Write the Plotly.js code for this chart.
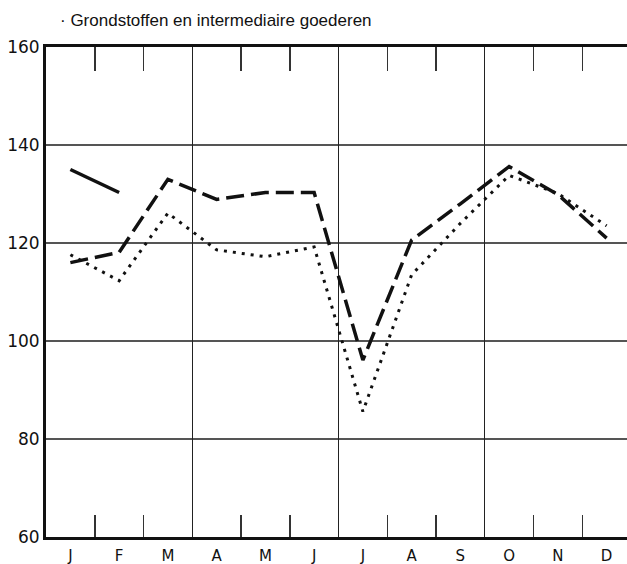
<!DOCTYPE html>
<html>
<head>
<meta charset="utf-8">
<script src="https://cdn.plot.ly/plotly-3.0.1.min.js"></script>
<style>
html,body{margin:0;padding:0;overflow:hidden;background:#fff;}
#chart{width:636px;height:564px;}
</style>
</head>
<body>
<div id="chart"></div>
<script>
// Data
var monthLabels = ["J","F","M","A","M","J","J","A","S","O","N","D"];
var monthIndex = [0,1,2,3,4,5,6,7,8,9,10,11];
var solidValues = [135.0, 130.3];
var dashedValues = [116.0, 118.1, 133.0, 128.9, 130.3, 130.3, 96.1, 120.6, 128.0, 135.6, 129.9, 121.0];
var dottedValues = [117.6, 112.3, 126.1, 118.6, 117.2, 119.2, 85.6, 113.5, 124.0, 133.8, 130.1, 123.5];
var yTicks = [60, 80, 100, 120, 140, 160];
var monthBoundaries = [0.5, 1.5, 3.5, 4.5, 6.5, 7.5, 9.5, 10.5];
var quarterBoundaries = [2.5, 5.5, 8.5];
var titleText = "· Grondstoffen en intermediaire goederen";

var traces = [
  {x: monthIndex, y: dottedValues, mode: 'lines', line: {color: '#111', width: 3, dash: '3px,6px'}, hoverinfo: 'skip'},
  {x: monthIndex, y: dashedValues, mode: 'lines', line: {color: '#111', width: 3.5, dash: '18px,7px'}, hoverinfo: 'skip'},
  {x: monthIndex.slice(0, solidValues.length), y: solidValues, mode: 'lines', line: {color: '#111', width: 3.5}, hoverinfo: 'skip'}
];

var xr = [-0.5, 11.5];
var layout = {
  width: 636, height: 564,
  margin: {l: 46, r: 5, t: 47, b: 27},
  paper_bgcolor: '#fff', plot_bgcolor: '#fff',
  showlegend: false,
  title: {text: titleText, xref: 'container', yref: 'container', x: 60/636, xanchor: 'left', y: 1 - 20/564, yanchor: 'middle',
          font: {family: 'Liberation Sans, Arial, sans-serif', size: 17, color: '#111'}},
  xaxis: {
    range: xr, tickmode: 'array', tickvals: monthIndex, ticktext: monthLabels,
    ticks: '', showgrid: false, zeroline: false,
    showline: true, linewidth: 3, linecolor: '#111',
    ticklabelstandoff: 3,
    tickfont: {family: 'DejaVu Sans, sans-serif', size: 15, color: '#111'},
    minor: {tickmode: 'array', tickvals: monthBoundaries, ticks: 'inside', ticklen: 22, tickwidth: 1.5, tickcolor: '#333', showgrid: false}
  },
  xaxis2: {
    range: xr, overlaying: 'x', side: 'top', tickmode: 'array', tickvals: monthBoundaries,
    ticks: 'inside', ticklen: 24, tickwidth: 1.5, tickcolor: '#333', showticklabels: false,
    showgrid: false, zeroline: false, showline: true, linewidth: 3, linecolor: '#111'
  },
  xaxis3: {
    range: xr, overlaying: 'x', side: 'bottom', tickmode: 'array', tickvals: quarterBoundaries,
    ticks: '', showticklabels: false, showgrid: true, gridcolor: '#222', gridwidth: 1.2, zeroline: false, showline: false
  },
  yaxis: {
    range: [60, 160], tickmode: 'array', tickvals: yTicks, ticks: '',
    showgrid: true, gridcolor: '#555', gridwidth: 1.2, zeroline: false,
    showline: true, linewidth: 3, linecolor: '#111',
    tickfont: {family: 'DejaVu Sans, sans-serif', size: 17, color: '#111'}
  }
};

// dummy traces to activate overlay axes
traces.push({x: [], y: [], xaxis: 'x2', yaxis: 'y', mode: 'lines', hoverinfo: 'skip'});
traces.push({x: [], y: [], xaxis: 'x3', yaxis: 'y', mode: 'lines', hoverinfo: 'skip'});

Plotly.newPlot('chart', traces, layout, {staticPlot: true, displayModeBar: false});
</script>
</body>
</html>
